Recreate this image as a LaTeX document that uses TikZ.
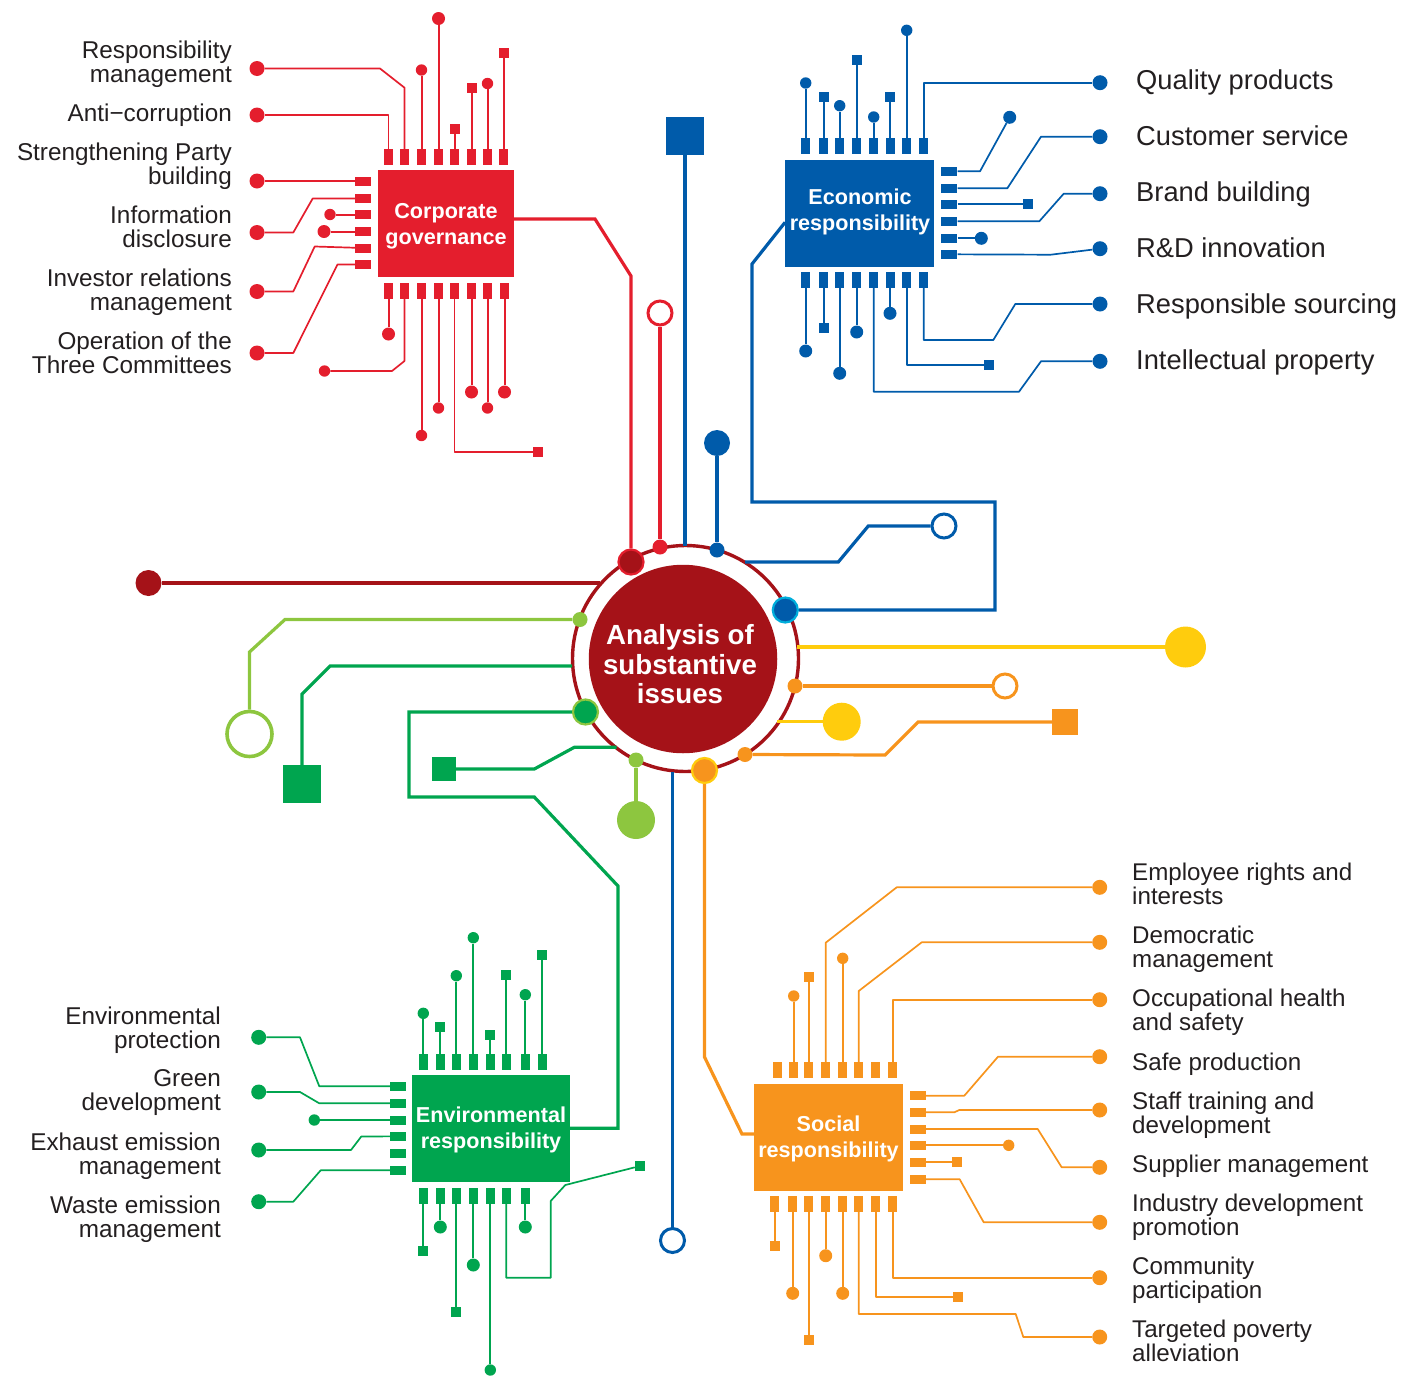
\documentclass[tikz,border=0pt]{standalone}
\usepackage{fontspec}
\setmainfont{Liberation Sans}
\definecolor{govred}{HTML}{E41E2D}
\definecolor{ecoblue}{HTML}{005BAA}
\definecolor{envgreen}{HTML}{00A54F}
\definecolor{socorange}{HTML}{F7941D}
\definecolor{hubred}{HTML}{A51218}
\definecolor{limegreen}{HTML}{8DC63F}
\definecolor{hubyellow}{HTML}{FFCC0D}
\definecolor{hubcyan}{HTML}{00AEDB}
\definecolor{labelgrey}{HTML}{231F20}

\begin{document}
\begin{tikzpicture}[x=1pt,y=-1pt]
\tikzset{
	vpin/.style={fill=chipcol,inner sep=0,minimum width=9pt,minimum height=16pt},
	hpin/.style={fill=chipcol,inner sep=0,minimum width=16pt,minimum height=9pt},
	smalldot/.style={circle,fill=chipcol,inner sep=0,minimum size=11.4pt},
	middot/.style={circle,fill=chipcol,inner sep=0,minimum size=13pt},
	bigdot/.style={circle,fill=chipcol,inner sep=0,minimum size=15pt},
	termsq/.style={fill=chipcol,inner sep=0,minimum size=10pt},
	wire/.style={draw=chipcol,line width=2pt},
	bentwire/.style={draw=chipcol,line width=1.7pt,line join=round},
	hubwire/.style={draw=#1,line width=3.2pt,line join=miter},
	chip/.style={fill=chipcol,inner sep=0},
	chiptext/.style={text=white,align=center,inner sep=0,font=\fontsize{21.6}{26}\selectfont\bfseries},
	hubdot/.style 2 args={circle,fill=#1,draw=#2,line width=2.2pt,inner sep=0,minimum size=25pt},
	tipdot/.style={circle,fill=#1,inner sep=0,minimum size=15pt},
	hollow/.style={circle,fill=white,draw=#1,line width=3pt,inner sep=0,minimum size=24pt},
	leftlabel/.style={anchor=east,align=right,inner sep=0,text=labelgrey,font=\fontsize{24.3}{24}\selectfont},
	rightlabel/.style={anchor=west,align=left,inner sep=0,text=labelgrey,font=\fontsize{24.15}{24}\selectfont},
	ecolabel/.style={anchor=west,inner sep=0,text=labelgrey,font=\fontsize{27.3}{28}\selectfont}
}
\useasboundingbox (0,0) rectangle (1402,1376);

\node [circle,fill=white,draw=hubred,line width=3.4pt,inner sep=0,minimum size=226pt] (ring) at (685.5,658.5) {};
\node [circle,fill=hubred,inner sep=0,minimum size=188.5pt] (core) at (683,659) {};
\node [text=white,align=center,inner sep=0,font=\fontsize{27.7}{29.5}\selectfont\bfseries] (coretext) at (680,664.5) {Analysis of\\substantive\\issues};

\begin{scope}
\colorlet{chipcol}{govred}
\node [chip,minimum width=136pt,minimum height=107pt] (corp) at (446,223.5) {};
\node [chiptext] (corptext) at (446,226.5) {Corporate\\governance};
\foreach \n/\px in {t1/388.5,t2/404.5,t3/421.5,t4/438.5,t5/454.5,t6/471.5,t7/487.5,t8/503.5}
	\node [vpin] (g\n) at (\px,157) {};
\foreach \n/\px in {b1/388.5,b2/404.5,b3/421.5,b4/438.5,b5/454.5,b6/471.5,b7/487.5,b8/504.5}
	\node [vpin] (g\n) at (\px,291) {};
\foreach \n/\py in {l1/181,l2/198.5,l3/214.5,l4/231.5,l5/248,l6/264.5}
	\node [hpin] (g\n) at (363,\py) {};
\foreach \n/\ex/\ey/\kind in {t3/421.5/70/smalldot,t4/438.5/18.5/middot,t5/454.5/129/termsq,t6/471.5/88/termsq,t7/487.5/83.5/smalldot,t8/503.5/53/termsq,l1/257/181/bigdot,l3/330/214.5/smalldot,l4/324/231.5/middot,b1/388.5/334/middot,b3/421.5/435.5/smalldot,b4/438.5/408/smalldot,b6/471.5/392/middot,b7/487.5/408/smalldot,b8/504.5/392/middot}{
	\node [\kind] (g\n e) at (\ex,\ey) {};
	\draw [wire] (g\n) -- (g\n e);
}
\node [bigdot] (dresp) at (257,68.5) {};
\node [bigdot] (danti) at (257,115) {};
\node [bigdot] (dinfo) at (257,232.5) {};
\node [bigdot] (dinve) at (257,291.5) {};
\node [bigdot] (doper) at (257,353) {};
\node [smalldot] (gb2e) at (324.5,371) {};
\node [termsq] (gb5e) at (538,452) {};
\draw [bentwire] (gt1) -- (388.5,115) -- (danti);
\draw [bentwire] (gt2) -- (404.5,87.7) -- (380,68.5) -- (dresp);
\draw [bentwire] (gl2) -- (312.7,198.5) -- (293.3,232.5) -- (dinfo);
\draw [bentwire] (gl5) -- (314.7,246.5) -- (293.3,291.5) -- (dinve);
\draw [bentwire] (gl6) -- (337.5,264.5) -- (293.3,353) -- (doper);
\draw [bentwire] (gb2) -- (404.5,361) -- (392,371) -- (gb2e);
\draw [bentwire] (gb5) -- (454.5,452) -- (gb5e);
\end{scope}

\begin{scope}
\colorlet{chipcol}{ecoblue}
\node [chip,minimum width=149pt,minimum height=107pt] (econ) at (859.8,213.3) {};
\node [chiptext] (econtext) at (860,211.8) {Economic\\responsibility};
\foreach \n/\px in {t1/805.7,t2/823.7,t3/839.7,t4/856.7,t5/873.7,t6/890,t7/906.7,t8/923.7}{
	\node [vpin] (e\n) at (\px,145.7) {};
}
\foreach \n/\px in {b1/805.7,b2/823.7,b3/839.7,b4/856.7,b5/873.7,b6/890,b7/906.7,b8/923.7}{
	\node [vpin] (e\n) at (\px,279.8) {};
}
\foreach \n/\py in {r1/171.3,r2/188.3,r3/204.3,r4/221.3,r5/238.3,r6/254.3}
	\node [hpin] (e\n) at (949.3,\py) {};
\foreach \n/\ex/\ey/\kind in {t1/805.7/83/smalldot,t2/823.7/96.7/termsq,t3/839.7/105.7/smalldot,t4/856.7/59.7/termsq,t5/873.7/117/smalldot,t6/890/96.7/termsq,t7/906.7/30.3/smalldot,r3/1028.3/204.3/termsq,r5/981.3/238.3/middot,b1/805.7/351/middot,b2/823.7/328/termsq,b3/839.7/373.3/middot,b4/856.7/332/middot,b6/890/313.3/middot}{
	\node [\kind] (e\n e) at (\ex,\ey) {};
	\draw [wire] (e\n) -- (e\n e);
}
\node [bigdot] (dqual) at (1100,82.7) {};
\node [bigdot] (dcust) at (1100,136.7) {};
\node [bigdot] (dbran) at (1100,193.7) {};
\node [bigdot] (drand) at (1100,248.7) {};
\node [bigdot] (dsour) at (1100,304) {};
\node [bigdot] (dinte) at (1100,361.3) {};
\node [middot] (er1e) at (1009.7,117.3) {};
\node [termsq] (eb7e) at (989.3,365.3) {};
\draw [bentwire] (et8) -- (923.7,82.7) -- (dqual);
\draw [bentwire] (er1) -- (980,171.3) -- (er1e);
\draw [bentwire] (er2) -- (1007.3,188.3) -- (1041,136.7) -- (dcust);
\draw [bentwire] (er4) -- (1039.3,221.3) -- (1063.7,193.7) -- (dbran);
\draw [bentwire] (er6) -- (1050.7,254.7) -- (drand);
\draw [bentwire] (eb8) -- (923.7,340) -- (993.3,340) -- (1015.3,304) -- (dsour);
\draw [bentwire] (eb7) -- (906.7,365.3) -- (eb7e);
\draw [bentwire] (eb5) -- (873.7,391.7) -- (1019,391.7) -- (1041,361.3) -- (dinte);
\end{scope}

\begin{scope}
\colorlet{chipcol}{envgreen}
\node [chip,minimum width=158pt,minimum height=107pt] (envi) at (491,1128.3) {};
\node [chiptext] (envitext) at (491,1130.3) {Environmental\\responsibility};
\foreach \n/\px in {t1/423.3,t2/440.3,t3/456.3,t4/473.3,t5/490.3,t6/506.3,t7/525.3,t8/542.3}
	\node [vpin] (n\n) at (\px,1062) {};
\foreach \n/\px in {b1/423.3,b2/440.3,b3/456.3,b4/473.3,b5/490.3,b6/506.3,b7/525.3}
	\node [vpin] (n\n) at (\px,1196) {};
\foreach \n/\py in {l1/1086.3,l2/1103.3,l3/1120,l4/1136.3,l5/1153.3,l6/1170.3}
	\node [hpin] (n\n) at (398,\py) {};
\foreach \n/\ex/\ey/\kind in {t1/423.3/1013.3/smalldot,t2/440.3/1027/termsq,t3/456.3/975.7/smalldot,t4/473.3/937.7/smalldot,t5/490.3/1035/termsq,t6/506.3/975/termsq,t7/525.3/994.7/smalldot,t8/542.3/955/termsq,l3/314.3/1120/smalldot,b1/423.3/1251/termsq,b2/440.3/1227/middot,b3/456.3/1312/termsq,b4/473.3/1265/middot,b5/490.3/1370/smalldot,b7/525.3/1227/middot}{
	\node [\kind] (n\n e) at (\ex,\ey) {};
	\draw [wire] (n\n) -- (n\n e);
}
\node [bigdot] (dprot) at (258.7,1037.3) {};
\node [bigdot] (dgree) at (258.7,1092) {};
\node [bigdot] (dexha) at (258.7,1150) {};
\node [bigdot] (dwast) at (258.7,1201.7) {};
\node [termsq] (nb6e) at (640,1166) {};
\draw [bentwire] (nl1) -- (319.3,1086.3) -- (300,1037.3) -- (dprot);
\draw [bentwire] (nl2) -- (319.3,1103.3) -- (300,1092) -- (dgree);
\draw [bentwire] (nl4) -- (361.3,1136.5) -- (351,1150) -- (dexha);
\draw [bentwire] (nl6) -- (320.7,1170.3) -- (293.3,1201.7) -- (dwast);
\draw [bentwire] (nb6) -- (506.3,1277.7) -- (550.7,1277.7) -- (550.7,1201) -- (565.3,1185) -- (nb6e);
\end{scope}

\begin{scope}
\colorlet{chipcol}{socorange}
\node [chip,minimum width=149pt,minimum height=107pt] (soci) at (828.5,1137.3) {};
\node [chiptext] (socitext) at (828.5,1139.3) {Social\\responsibility};
\foreach \n/\px in {t1/777.7,t2/793.7,t3/808.7,t4/825.7,t5/842.7,t6/858.7,t7/875.7,t8/892.7}
	\node [vpin] (s\n) at (\px,1070) {};
\foreach \n/\px in {b1/774.7,b2/792.7,b3/808.7,b4/825.7,b5/842.7,b6/858.7,b7/875.7,b8/892.7}
	\node [vpin] (s\n) at (\px,1204) {};
\foreach \n/\py in {r1/1095.7,r2/1112.3,r3/1129,r4/1145.3,r5/1162.3,r6/1179.3}
	\node [hpin] (s\n) at (918,\py) {};
\foreach \n/\ex/\ey/\kind in {t2/793.7/996/smalldot,t3/808.7/977/termsq,t5/842.7/958.3/smalldot,r4/1008.7/1145.3/smalldot,r5/957.3/1162.3/termsq,b1/774.7/1246/termsq,b2/792.7/1293.3/middot,b3/808.7/1340/termsq,b4/825.7/1255.7/middot,b5/842.7/1293.3/middot}{
	\node [\kind] (s\n e) at (\ex,\ey) {};
	\draw [wire] (s\n) -- (s\n e);
}
\node [bigdot] (demp) at (1099.7,887.3) {};
\node [bigdot] (ddem) at (1099.7,942.3) {};
\node [bigdot] (docc) at (1099.7,999.7) {};
\node [bigdot] (dsaf) at (1099.7,1056.7) {};
\node [bigdot] (dsta) at (1099.7,1110) {};
\node [bigdot] (dsup) at (1099.7,1167.3) {};
\node [bigdot] (dind) at (1099.7,1222.3) {};
\node [bigdot] (dcom) at (1099.7,1277.7) {};
\node [bigdot] (dtar) at (1099.7,1337) {};
\node [termsq] (sb7e) at (958.3,1297) {};
\draw [bentwire] (st4) -- (825.7,942.7) -- (896.7,887.3) -- (demp);
\draw [bentwire] (st6) -- (858.7,991) -- (921.7,942.3) -- (ddem);
\draw [bentwire] (st8) -- (892.7,999.7) -- (docc);
\draw [bentwire] (sr1) -- (964.3,1095.7) -- (998,1056.7) -- (dsaf);
\draw [bentwire] (sr2) -- (954.3,1112.3) -- (959.3,1110) -- (dsta);
\draw [bentwire] (sr3) -- (1037.7,1129) -- (1061.7,1167.3) -- (dsup);
\draw [bentwire] (sr6) -- (959.7,1179.3) -- (983.7,1222.3) -- (dind);
\draw [bentwire] (sb8) -- (892.7,1277.7) -- (dcom);
\draw [bentwire] (sb7) -- (875.7,1297) -- (sb7e);
\draw [bentwire] (sb6) -- (858.7,1314) -- (1015.7,1314) -- (1023.3,1337) -- (dtar);
\end{scope}

\node [hubdot={hubred}{govred}] (hcorp) at (631,562) {};
\node [hubdot={ecoblue}{hubcyan}] (hecon) at (785.3,610) {};
\node [hubdot={envgreen}{limegreen}] (henvi) at (585.5,712) {};
\node [hubdot={socorange}{hubyellow}] (hsoci) at (704.5,770.5) {};
\node [tipdot=govred] (hred) at (660,547) {};
\node [tipdot=ecoblue] (hblue) at (717,550) {};
\node [tipdot=limegreen] (hlimea) at (580,619.5) {};
\node [tipdot=limegreen] (hlimeb) at (636,760) {};
\node [tipdot=socorange] (horaa) at (795,686) {};
\node [tipdot=socorange] (horab) at (745,754.5) {};

\coordinate (rdarkred) at (600,583);
\coordinate (rsquare) at (685,545.5);
\coordinate (rhollow) at (745,562);
\coordinate (ryellowa) at (797,647);
\coordinate (ryellowb) at (777,721.7);
\coordinate (rblue) at (672.5,771.5);
\coordinate (rgreena) at (572,666);
\coordinate (rgreenb) at (616.7,747.3);

\node [circle,fill=hubred,inner sep=0,minimum size=26pt] (tdarkred) at (148.5,583) {};
\node [hollow=govred] (tredring) at (660,313) {};
\node [fill=ecoblue,inner sep=0,minimum size=38pt] (tbluesq) at (685,136) {};
\node [circle,fill=ecoblue,inner sep=0,minimum size=26pt] (tbluedot) at (717,443) {};
\node [hollow=ecoblue] (tbluering) at (944,526) {};
\node [circle,fill=hubyellow,inner sep=0,minimum size=41pt] (tyellowa) at (1185.5,647) {};
\node [circle,fill=hubyellow,inner sep=0,minimum size=38pt] (tyellowb) at (841.7,721.7) {};
\node [hollow=socorange] (torering) at (1005,686) {};
\node [fill=socorange,inner sep=0,minimum size=26pt] (toresq) at (1065,722) {};
\node [hollow=ecoblue] (tbluelow) at (672.5,1240.5) {};
\node [circle,fill=limegreen,inner sep=0,minimum size=38pt] (tlimedot) at (636,820) {};
\node [hollow=limegreen,line width=3.6pt,minimum size=45pt] (tlimering) at (249.5,734) {};
\node [fill=envgreen,inner sep=0,minimum size=38pt] (tgreensq) at (302,784) {};
\node [fill=envgreen,inner sep=0,minimum size=24pt] (tgreensm) at (444,769) {};

\draw [hubwire=hubred] (tdarkred) -- (rdarkred);
\draw [hubwire=govred] ([yshift=4.5pt]corp.east) -- (595,219) -- (631,276) -- (hcorp);
\draw [hubwire=govred] (tredring) -- (hred);
\draw [hubwire=ecoblue] (tbluesq) -- (rsquare);
\draw [hubwire=ecoblue] (tbluedot) -- (hblue);
\draw [hubwire=ecoblue] (rhollow) -- (838.3,562) -- (868.3,526) -- (tbluering);
\draw [hubwire=ecoblue] ([yshift=-9pt]econ.west) -- (752,264) -- (752,502) -- (995,502) -- (995,610) -- (hecon);
\draw [hubwire=hubyellow] (ryellowa) -- (tyellowa);
\draw [hubwire=hubyellow] (ryellowb) -- (tyellowb);
\draw [hubwire=socorange] (horaa) -- (torering);
\draw [hubwire=socorange] (horab) -- (885,755) -- (918,722) -- (toresq);
\draw [hubwire=socorange] (hsoci) -- (704.5,1057) -- (742,1134) -- ([yshift=3.3pt]soci.west);
\draw [hubwire=ecoblue] (rblue) -- (tbluelow);
\draw [hubwire=limegreen] (hlimeb) -- (tlimedot);
\draw [hubwire=limegreen] (hlimea) -- (285,619.5) -- (249.5,652) -- (tlimering);
\draw [hubwire=envgreen] (rgreena) -- (330,666) -- (302,694) -- (tgreensq);
\draw [hubwire=envgreen] (rgreenb) -- (574.3,747.3) -- (534.3,769) -- (tgreensm);
\draw [hubwire=envgreen] (henvi) -- (409,712) -- (409,797) -- (534.3,797) -- (618,886) -- (618,1128.3) -- (envi.east);

\node [leftlabel] (lresp) at (232,64) {Responsibility\\management};
\node [leftlabel] (lanti) at (232,115) {Anti−corruption};
\node [leftlabel] (lstre) at (232,166) {Strengthening Party\\building};
\node [leftlabel] (linfo) at (232,227) {Information\\disclosure};
\node [leftlabel] (linve) at (232,292) {Investor relations\\management};
\node [leftlabel] (loper) at (232,353) {Operation of the\\Three Committees};

\node [ecolabel] (lqual) at (1136,82) {Quality products};
\node [ecolabel] (lcust) at (1136,136) {Customer service};
\node [ecolabel] (lbran) at (1136,194) {Brand building};
\node [ecolabel] (lrand) at (1136,248) {R\&D innovation};
\node [ecolabel] (lsour) at (1136,306) {Responsible sourcing};
\node [ecolabel] (linte) at (1136,362) {Intellectual property};

\node [leftlabel] (lprot) at (221,1030) {Environmental\\protection};
\node [leftlabel] (lgree) at (221,1093) {Green\\development};
\node [leftlabel] (lexha) at (221,1156) {Exhaust emission\\management};
\node [leftlabel] (lwast) at (221,1219) {Waste emission\\management};

\node [rightlabel] (lemp) at (1132,884) {Employee rights and\\interests};
\node [rightlabel] (ldem) at (1132,949) {Democratic\\management};
\node [rightlabel] (locc) at (1132,1012) {Occupational health\\and safety};
\node [rightlabel] (lsaf) at (1132,1064) {Safe production};
\node [rightlabel] (lsta) at (1132,1115) {Staff training and\\development};
\node [rightlabel] (lsup) at (1132,1166) {Supplier management};
\node [rightlabel] (lind) at (1132,1217) {Industry development\\promotion};
\node [rightlabel] (lcom) at (1132,1280) {Community\\participation};
\node [rightlabel] (ltar) at (1132,1341) {Targeted poverty\\alleviation};
\end{tikzpicture}
\end{document}
